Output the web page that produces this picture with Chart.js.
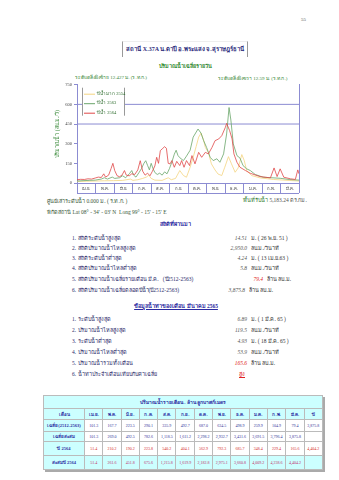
<!DOCTYPE html>
<html>
<head>
<meta charset="utf-8">
<script src="https://cdn.jsdelivr.net/npm/chart.js@4.4.1/dist/chart.umd.min.js"></script>
<style>
body { margin: 0; width: 339px; height: 480px; background: #fff; position: relative; overflow: hidden; font-family: 'Liberation Serif', serif; }
.t { position: absolute; white-space: nowrap; line-height: 1; }
.lbl { left: 72px; font-size: 5.5px; color: #2a2a6a; }
.val { font-size: 5.5px; font-style: italic; color: #555; text-align: right; }
.unit { font-size: 5.5px; color: #333; }
.red { color: #e02020; }
#chartBox { position: absolute; left: 0; top: 80px; width: 339px; height: 116px; }
#tbl { position: absolute; left: 43px; top: 395px; border-collapse: collapse; box-shadow: 2px 2px 0 #aaa; border: 1px solid #888; table-layout: fixed; }
#tbl td { border: 1px solid #bbb; padding: 0; text-align: center; font-size: 4px; white-space: nowrap; overflow: hidden; color: #333399; }
#tbl .hd { background: #ccffff; font-weight: bold; color: #2a2aa0; font-size: 4.5px; }
#tbl .r3 { color: #d42a2a; }
#tbl .r4 { color: #c0306a; background: #ccffff; }
</style>
</head>
<body>
<div class="t" style="left:301px;top:17px;font-size:5px;color:#555">55</div>
<div class="t" style="left:122px;top:41px;width:124px;height:15px;border-left:1px solid #999;border-right:1px solid #999;border-top:1px solid #eee;"></div>
<div class="t" style="left:122px;width:126px;top:46px;text-align:center;font-size:6px;font-weight:bold;color:#2a2a7a">สถานี X.37A น.ตาปี อ.พระแสง จ.สุราษฎร์ธานี</div>

<div class="t" style="left:140px;width:90px;top:64px;text-align:center;font-size:5.5px;font-weight:bold;color:#2f8a2f">ปริมาณน้ำเฉลี่ยรายวัน</div>
<div class="t" style="left:75px;top:75px;font-size:5px;color:#3a8a3a">ระดับตลิ่งฝั่งซ้าย 12.427 ม. (ร.ท.ก.)</div>
<div class="t" style="left:218px;top:76px;font-size:5px;color:#3a8a3a">ระดับตลิ่งฝั่งขวา 12.59 ม. (ร.ท.ก.)</div>

<div id="chartBox"><canvas id="myChart" width="339" height="116"></canvas></div>

<div class="t" style="left:47px;top:198.5px;font-size:5.5px;color:#3a5a3a">ศูนย์เสาระดับน้ำ 0.000 ม. ( ร.ท.ก. )</div>
<div class="t" style="left:243px;top:198px;font-size:5.5px;color:#2f7a2f">พื้นที่รับน้ำ <span style="color:#555">5,183.24 ตร.กม.</span></div>
<div class="t" style="left:47px;top:210px;font-size:5.5px;color:#3a5a3a">พิกัดสถานี Lat 08° - 34' - 03' N &nbsp;Long 99° - 15' - 15' E</div>

<div class="t" style="left:140px;width:70px;top:222px;text-align:center;font-size:5.5px;font-weight:bold;color:#2a2aa0">สถิติที่ผ่านมา</div>
<div id="stats1"></div>
<div class="t" style="left:126px;width:100px;top:304px;text-align:center;font-size:5.5px;font-weight:bold;color:#2a2aa0;text-decoration:underline">ข้อมูลน้ำท่าของเดือน มีนาคม 2565</div>
<div id="stats2"></div>

<table id="tbl"></table>

<script>
// month labels (water year April - March)
const months = ['เม.ย.', 'พ.ค.', 'มิ.ย.', 'ก.ค.', 'ส.ค.', 'ก.ย.', 'ต.ค.', 'พ.ย.', 'ธ.ค.', 'ม.ค.', 'ก.พ.', 'มี.ค.'];
const yTicks = [0, 150, 300, 450, 600, 750];
const bankLevels = [600, 450];

// daily flow (m3/s), day 0 = 1 April
const days2554 = [0, 15, 30, 45, 60, 75, 88, 92, 100, 108, 114, 118, 122, 128, 140, 150, 155, 162, 169, 175, 180, 186, 191, 196, 200, 204, 208, 211, 216, 221, 227, 232, 238, 243, 249, 254, 260, 265, 271, 275, 279, 287, 301, 323, 350, 365];
const flow2554 = [12, 13, 15, 17, 18, 20, 30, 20, 25, 35, 45, 60, 35, 22, 20, 40, 25, 35, 95, 57, 44, 120, 196, 280, 350, 380, 330, 272, 234, 146, 99, 68, 57, 121, 201, 146, 82, 115, 217, 171, 95, 57, 39, 27, 19, 15];

const days2563 = [0, 10, 20, 30, 40, 45, 50, 58, 62, 70, 75, 80, 86, 90, 93, 97, 102, 106, 110, 113, 116, 119, 122, 125, 128, 132, 136, 140, 144, 148, 152, 156, 160, 163, 166, 169, 175, 180, 186, 191, 199, 204, 208, 213, 219, 224, 230, 235, 241, 246, 250, 253, 257, 263, 268, 273, 279, 285, 293, 306, 334, 350, 365];
const flow2563 = [15, 18, 20, 22, 30, 40, 30, 45, 35, 40, 55, 40, 70, 95, 60, 45, 80, 110, 150, 170, 135, 100, 150, 110, 80, 65, 75, 60, 85, 70, 110, 160, 220, 250, 210, 193, 171, 205, 250, 350, 412, 380, 325, 272, 196, 171, 185, 158, 222, 374, 576, 480, 298, 209, 190, 133, 108, 95, 65, 44, 36, 26, 22];

const days2564 = [0, 6, 12, 18, 24, 30, 35, 40, 44, 47, 52, 56, 59, 62, 66, 70, 74, 78, 81, 86, 90, 95, 100, 104, 108, 112, 116, 120, 124, 128, 131, 134, 137, 140, 144, 147, 150, 153, 156, 160, 164, 169, 172, 176, 180, 185, 189, 194, 200, 205, 211, 216, 222, 227, 233, 238, 244, 246, 251, 255, 258, 263, 268, 277, 285, 301, 318, 324, 329, 334, 340, 351, 359, 363, 365];
const flow2564 = [25, 28, 27, 32, 30, 38, 45, 42, 70, 45, 60, 110, 150, 95, 55, 48, 60, 95, 60, 55, 70, 65, 100, 170, 90, 60, 75, 55, 90, 130, 196, 150, 247, 260, 277, 265, 150, 146, 171, 120, 165, 133, 171, 120, 171, 133, 209, 146, 234, 196, 234, 222, 272, 323, 336, 361, 425, 455, 399, 336, 222, 158, 120, 95, 74, 49, 39, 115, 49, 108, 44, 32, 27, 100, 70];

// monthly volumes (million m3)
const avgMonthly = [101.3, 167.7, 223.5, 290.1, 335.9, 492.7, 687.0, 634.5, 498.9, 259.9, 104.9, 79.4];
const avgTotal = 3875.8;
const avgCum = [101.3, 269.0, 492.5, 782.6, 1118.5, 1611.2, 2298.2, 2932.7, 3431.6, 3691.5, 3796.4, 3875.8];
const vol2564 = [51.4, 210.2, 190.2, 223.8, 540.2, 404.1, 562.9, 792.3, 685.7, 348.4, 229.4, 165.6];
const total2564 = 4404.2;
const cum2564 = [51.4, 261.6, 451.8, 675.6, 1215.8, 1619.9, 2182.8, 2975.1, 3660.8, 4009.2, 4238.6, 4404.2];

const axisColor = '#8c8cd2';
Chart.defaults.font.family = "'Liberation Serif', serif";
Chart.defaults.font.size = 4.5;
Chart.defaults.color = '#444';

function pts(d, f) {
    return d.map((x, i) => ({ x: x, y: f[i] }));
}

const legendBox = {
    id: 'legendBox',
    afterDatasetsDraw(chart) {
        const ctx = chart.ctx;
        const a = chart.chartArea;
        const x = a.left + 5, y = a.top + 3, w = 43, h = 28;
        ctx.save();
        ctx.fillStyle = '#fff';
        ctx.fillRect(x, y, w, h);
        ctx.strokeStyle = '#999';
        ctx.lineWidth = 1;
        ctx.beginPath();
        ctx.moveTo(x + 0.5, y); ctx.lineTo(x + 0.5, y + h);
        ctx.moveTo(x + w - 0.5, y); ctx.lineTo(x + w - 0.5, y + h);
        ctx.stroke();
        ctx.font = "4.5px 'Liberation Serif', serif";
        ctx.textBaseline = 'middle';
        chart.data.datasets.filter(d => d.legendPos !== undefined)
            .sort((p, q) => p.legendPos - q.legendPos)
            .forEach((d, i) => {
                const ly = y + 6 + i * 9.5;
                ctx.strokeStyle = d.borderColor;
                ctx.beginPath();
                ctx.moveTo(x + 2, ly + 0.5); ctx.lineTo(x + 13, ly + 0.5);
                ctx.stroke();
                ctx.fillStyle = '#2a6a2a';
                ctx.fillText(d.label, x + 15, ly);
            });
        ctx.restore();
    }
};

const boxLine = {
    id: 'boxLine',
    afterDraw(chart) {
        const s = chart.scales.xm;
        const ctx = chart.ctx;
        ctx.save();
        ctx.strokeStyle = axisColor;
        ctx.lineWidth = 1;
        ctx.beginPath();
        ctx.moveTo(s.left, s.top + 10.5);
        ctx.lineTo(s.right, s.top + 10.5);
        ctx.stroke();
        ctx.restore();
    }
};

const ctx = document.getElementById('myChart').getContext('2d');
const myChart = new Chart(ctx, {
    type: 'line',
    data: {
        datasets: [
            { label: 'ปีน้ำ 2564', legendPos: 2, data: pts(days2564, flow2564), borderColor: '#e04848' },
            { label: 'ปีน้ำ 2563', legendPos: 1, data: pts(days2563, flow2563), borderColor: '#6aa66a' },
            { label: 'ปีน้ำมาก 2554', legendPos: 0, data: pts(days2554, flow2554), borderColor: '#f4d480' },
            { label: 'bank1', data: [{ x: 0, y: bankLevels[0] }, { x: 365, y: bankLevels[0] }], borderColor: axisColor, borderWidth: 1 },
            { label: 'bank2', data: [{ x: 0, y: bankLevels[1] }, { x: 365, y: bankLevels[1] }], borderColor: axisColor, borderWidth: 1 }
        ].map(d => Object.assign({ borderWidth: 0.8, pointRadius: 0, tension: 0, xAxisID: 'x', yAxisID: 'y' }, d))
    },
    options: {
        responsive: false,
        animation: false,
        layout: { padding: { left: 50, right: 40, top: 4, bottom: 3 } },
        plugins: { legend: { display: false }, tooltip: { enabled: false } },
        scales: {
            x: { type: 'linear', min: 0, max: 365, display: false },
            xm: {
                type: 'category',
                labels: months,
                position: 'bottom',
                offset: true,
                grid: { offset: true, drawOnChartArea: false, tickLength: 10, color: axisColor },
                border: { color: axisColor },
                ticks: { padding: -7, color: '#333', font: { size: 4.2 }, maxRotation: 0, autoSkip: false },
                afterFit: s => { s.height = 10; }
            },
            y: {
                min: 0,
                max: 750,
                afterBuildTicks: s => { s.ticks = yTicks.map(v => ({ value: v })); },
                grid: { drawOnChartArea: false, tickLength: 3, color: axisColor },
                border: { color: axisColor },
                ticks: { padding: 2, color: '#444' },
                title: { display: true, text: 'ปริมาณน้ำ (ลบ.ม./วิ)', color: '#3a8a3a', font: { size: 5.5 }, padding: { top: 4, bottom: 0 } },
                afterFit: s => { s.width = 27; }
            },
            yr: {
                position: 'right',
                min: 0,
                max: 750,
                grid: { drawOnChartArea: false, drawTicks: false },
                border: { color: axisColor },
                ticks: { display: false },
                afterFit: s => { s.width = 0; }
            }
        }
    },
    plugins: [legendBox, boxLine]
});

// statistic lists
const stats1 = [
    ['1. สถิติระดับน้ำสูงสุด', '14.51', 'ม. ( 26 พ.ย. 51 )', 239, 247, ''],
    ['2. สถิติปริมาณน้ำไหลสูงสุด', '2,950.0', 'ลบ.ม./วินาที', 248.5, 247, ''],
    ['3. สถิติระดับน้ำต่ำสุด', '4.24', 'ม. ( 13 เม.ย.63 )', 258.5, 247, ''],
    ['4. สถิติปริมาณน้ำไหลต่ำสุด', '5.8', 'ลบ.ม./วินาที', 269, 247, ''],
    ['5. สถิติปริมาณน้ำเฉลี่ยรายเดือน มี.ค. \u00a0\u00a0(ปี2512-2563)', '79.4', 'ล้าน ลบ.ม.', 280, 263, 'red'],
    ['6. สถิติปริมาณน้ำเฉลี่ยตลอดปีน้ำ(ปี2512-2563)', '3,875.8', 'ล้าน ลบ.ม.', 291, 245, '']
];
const stats2 = [
    ['1. ระดับน้ำสูงสุด', '6.89', 'ม. ( 1 มี.ค. 65 )', 320, 247, ''],
    ['2. ปริมาณน้ำไหลสูงสุด', '119.5', 'ลบ.ม./วินาที', 331, 247, ''],
    ['3. ระดับน้ำต่ำสุด', '4.93', 'ม. ( 18 มี.ค. 65 )', 342, 247, ''],
    ['4. ปริมาณน้ำไหลต่ำสุด', '53.9', 'ลบ.ม./วินาที', 353, 247, ''],
    ['5. ปริมาณน้ำรวมทั้งเดือน', '165.6', 'ล้าน ลบ.ม.', 364, 247, 'red'],
    ['6. น้ำท่าประจำเดือนเทียบกับค่าเฉลี่ย', 'สูง', '', 375, 245, 'red']
];
function writeStats(id, rows) {
    let html = '';
    rows.forEach(r => {
        const top = r[3] - 2.75;
        html += '<div class="t lbl" style="top:' + top + 'px">' + r[0] + '</div>';
        const deco = r[2] === '' ? 'text-decoration:underline;font-style:normal;' : '';
        html += '<div class="t val ' + r[5] + '" style="top:' + top + 'px;right:' + (339 - r[4]) + 'px;' + deco + '">' + r[1] + '</div>';
        html += '<div class="t unit" style="top:' + top + 'px;left:' + (r[4] + 4) + 'px">' + r[2] + '</div>';
    });
    document.getElementById(id).innerHTML = html;
}
writeStats('stats1', stats1);
writeStats('stats2', stats2);

// monthly volume table
function fmt(v) {
    return v.toLocaleString('en-US', { minimumFractionDigits: 1, maximumFractionDigits: 1 });
}
const rowH = [13, 11, 12, 10, 14, 14];
let th = '<colgroup><col style="width:41px">' + months.map(() => '<col style="width:18.3px">').join('') + '<col style="width:18.3px"></colgroup>';
th += '<tr style="height:' + rowH[0] + 'px"><td class="hd" colspan="14" style="font-size:5px">ปริมาณน้ำรายเดือน - ล้าน ลูกบาศก์เมตร</td></tr>';
th += '<tr style="height:' + rowH[1] + 'px"><td class="hd">เดือน</td>' + months.map(m => '<td class="hd">' + m + '</td>').join('') + '<td class="hd">ปี</td></tr>';
const rows = [
    ['เฉลี่ย(2512-2563)', avgMonthly, fmt(avgTotal), ''],
    ['เฉลี่ยสะสม', avgCum, '', ''],
    ['ปี 2564', vol2564, fmt(total2564), 'r3'],
    ['สะสมปี 2564', cum2564, '', 'r4']
];
rows.forEach((r, i) => {
    th += '<tr style="height:' + rowH[i + 2] + 'px"><td class="hd">' + r[0] + '</td>' +
        r[1].map(v => '<td class="' + r[3] + '">' + fmt(v) + '</td>').join('') +
        '<td class="' + r[3] + '">' + r[2] + '</td></tr>';
});
document.getElementById('tbl').innerHTML = th;
</script>
</body>
</html>
